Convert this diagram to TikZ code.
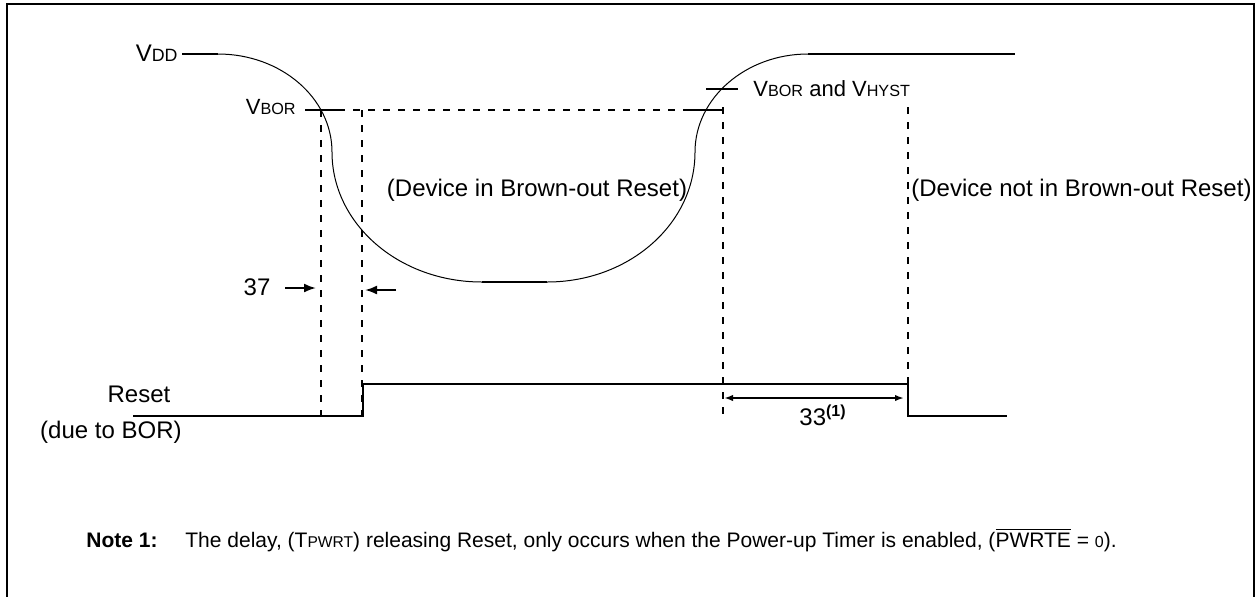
\documentclass[tikz,border=0pt]{standalone}
\usepackage{fontspec}
\setmainfont{Liberation Sans}
\usetikzlibrary{arrows.meta}
\newcommand{\lowcap}[2][8.9]{{\fontsize{#1}{#1}\selectfont #2}}

\begin{document}
\begin{tikzpicture}[x=0.5pt,y=-0.5pt,>={Latex[length=4.5pt,width=3.2pt]},
    every node/.style={font=\fontsize{12}{14}\selectfont, inner sep=0pt},
    level/.style={font=\fontsize{11}{13}\selectfont},
    guide/.style={line width=1pt, dash pattern=on 3.25pt off 4.25pt},
    signal/.style={line width=1pt},
    dim/.style={line width=1pt},
    bigtip/.style={-{Latex[length=6pt,width=4.5pt]}}]
    \useasboundingbox (0,0) rectangle (1257,596);
    % frame
    \draw[line width=1pt] (7,600) -- (7,4) -- (1254,4) -- (1254,600);
    % supply curve
    \node[anchor=east] (vdd) at (178,53) {V\lowcap{DD}};
    \draw[signal] (182,54) -- (218,54);
    \draw[line width=0.5pt] (218,54) .. controls (281,54) and (332,98) .. (332,152)
        .. controls (332,224) and (399,282) .. (482,282);
    \draw[signal] (482,282) -- (547,282);
    \draw[line width=0.5pt] (547,282) .. controls (629,282) and (695,224) .. (695,152)
        .. controls (695,98) and (746,54) .. (808,54);
    \draw[signal] (808,54) -- (1015,54);
    % trip levels
    \draw[guide] (338,110) -- (687,110);
    \draw[signal] (305,110) -- (338,110);
    \draw[signal] (687,110) -- (722,110);
    \draw[signal] (706,89) -- (738,89);
    \node[level, anchor=east] (vbor) at (296,107) {V\lowcap[8.1]{BOR}};
    \node[level, anchor=west] (vhyst) at (753,89) {V\lowcap[8.1]{BOR} and V\lowcap[8.1]{HYST}};
    \node (inbor) at (537,190) {(Device in Brown-out Reset)};
    \node[anchor=west] (outbor) at (911,190) {(Device not in Brown-out Reset)};
    % time marks
    \draw[guide] (321,110) -- (321,415);
    \draw[guide] (362,110) -- (362,420);
    \draw[guide] (723,107) -- (723,418);
    \draw[guide] (908,107) -- (908,384);
    % reset line
    \draw[signal] (133,416) -- (363,416) -- (363,384) -- (908,384) -- (908,416) -- (1007,416);
    \node (rst) at (139,394) {Reset};
    \node[anchor=base east] (due) at (182,438) {(due to BOR)};
    % parameter 37
    \node (p37) at (257,287) {37};
    \coordinate (l37) at (285,288);
    \coordinate (l37tip) at (316,288);
    \coordinate (r37) at (396,290);
    \coordinate (r37tip) at (365,290);
    \draw[dim,bigtip] (l37) -- (l37tip);
    \draw[dim,bigtip] (r37) -- (r37tip);
    % parameter 33
    \coordinate (a33) at (724,398);
    \coordinate (b33) at (904,398);
    \draw[dim,<->] (a33) -- (b33);
    \node[anchor=base west] (p33) at (799,425) {33\textsuperscript{\bfseries(1)}};
    % note
    \node[anchor=base west, font=\bfseries\fontsize{10.5}{12}\selectfont] (note) at (86,547) {Note 1:};
    \node[anchor=base west, font=\fontsize{10.5}{12}\selectfont] (notetxt) at (185,547)
        {The delay, (T\lowcap[7.8]{PWRT}) releasing Reset, only occurs when the Power-up Timer is enabled, ($\overline{\mbox{PWRTE}}$ = {\fontsize{8}{9}\selectfont 0}).};
\end{tikzpicture}
\end{document}
